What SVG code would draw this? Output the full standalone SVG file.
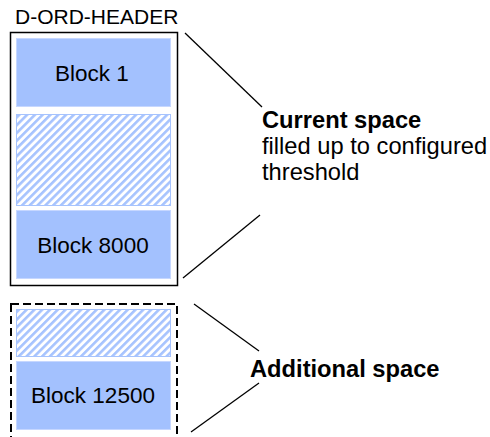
<svg xmlns="http://www.w3.org/2000/svg" width="490" height="437" viewBox="0 0 490 437">
  <defs>
    <pattern id="hatch" width="5.5" height="5.5" patternUnits="userSpaceOnUse" patternTransform="rotate(45)">
      <rect width="5.5" height="5.5" fill="#ffffff"/>
      <rect width="2.6" height="5.5" fill="#a6c3fe"/>
    </pattern>
  </defs>
  <style>
    .frame { fill: #ffffff; stroke: #000000; stroke-width: 1.5; }
    .dashed { fill: #ffffff; stroke: #000000; stroke-width: 2; stroke-dasharray: 8 4; }
    .block { fill: #a3c1fe; stroke: #c6d7ff; stroke-width: 1; }
    .free { fill: url(#hatch); stroke: #a6c3fe; stroke-width: 1; }
    .label { font-family: "Liberation Sans", Arial, sans-serif; font-size: 22.5px; fill: #000000; }
    .head { font-family: "Liberation Sans", Arial, sans-serif; font-size: 21px; fill: #000000; }
    .note { font-family: "Liberation Sans", Arial, sans-serif; font-size: 23.7px; fill: #000000; }
    .bold { font-weight: bold; }
    .conn line { stroke: #000000; stroke-width: 1.3; }
  </style>

  <text class="head" x="15" y="24">D-ORD-HEADER</text>

  <!-- current segment -->
  <g id="current-space">
    <rect class="frame" x="10.5" y="32.5" width="167" height="253"/>
    <g id="block-1">
      <rect class="block" x="16.5" y="38.5" width="154" height="68"/>
      <text class="label" x="92" y="81" text-anchor="middle">Block 1</text>
    </g>
    <g id="free-current">
      <rect class="free" x="16.5" y="114.5" width="154" height="91"/>
    </g>
    <g id="block-8000">
      <rect class="block" x="16.5" y="210.5" width="154" height="68"/>
      <text class="label" x="93" y="253" text-anchor="middle">Block 8000</text>
    </g>
  </g>

  <!-- additional segment -->
  <g id="additional-space">
    <rect class="dashed" x="11" y="304" width="166" height="150"/>
    <g id="free-additional">
      <rect class="free" x="16.5" y="309.5" width="154" height="47"/>
    </g>
    <g id="block-12500">
      <rect class="block" x="16.5" y="361.5" width="154" height="68"/>
      <text class="label" x="93" y="403" text-anchor="middle">Block 12500</text>
    </g>
  </g>

  <g class="conn">
    <line x1="185" y1="33" x2="262" y2="107"/>
    <line x1="260" y1="215" x2="183" y2="278"/>
    <line x1="194" y1="304" x2="259" y2="351"/>
    <line x1="259" y1="383" x2="191" y2="432"/>
  </g>

  <g id="note-current">
    <text class="note bold" x="262" y="128">Current space</text>
    <text class="note" x="262" y="154">filled up to configured</text>
    <text class="note" x="262" y="180">threshold</text>
  </g>
  <g id="note-additional">
    <text class="note bold" x="250" y="377">Additional space</text>
  </g>
</svg>
